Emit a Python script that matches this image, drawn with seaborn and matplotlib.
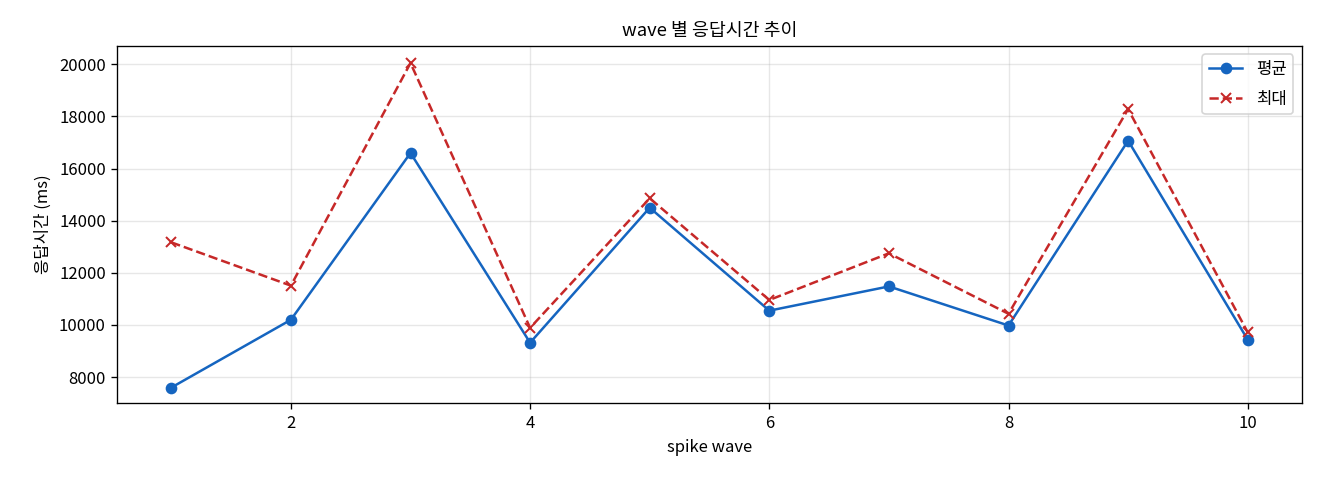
import numpy as np
import pandas as pd
import seaborn as sns
import matplotlib
matplotlib.use("Agg")
import matplotlib.pyplot as plt

# 데이터
waves = [1, 2, 3, 4, 5, 6, 7, 8, 9, 10]
avg_ms = [7600, 10200, 16600, 9320, 14500, 10550, 11480, 9980, 17070, 9440]
max_ms = [13170, 11510, 20050, 9890, 14860, 10960, 12750, 10430, 18280, 9720]

plt.rcParams['font.family'] = ['Noto Sans CJK KR', 'DejaVu Sans']
plt.rcParams['axes.unicode_minus'] = False

df = pd.DataFrame({"wave": waves, "평균": avg_ms, "최대": max_ms})

fig, ax = plt.subplots(figsize=(11, 4), dpi=120)
sns.lineplot(data=df, x="wave", y="평균", ax=ax, color="#1565C0",
             marker="o", markersize=6, markeredgecolor="#1565C0",
             markeredgewidth=1, linewidth=1.5, label="평균")
sns.lineplot(data=df, x="wave", y="최대", ax=ax, color="#C62828",
             marker="x", markersize=6, markeredgecolor="#C62828",
             markeredgewidth=1.2, linewidth=1.5, linestyle="--",
             label="최대")

ax.set_title("wave 별 응답시간 추이", fontsize=11)
ax.set_xlabel("spike wave", fontsize=10)
ax.set_ylabel("응답시간 (ms)", fontsize=10)
ax.set_xticks([2, 4, 6, 8, 10])
ax.set_yticks([8000, 10000, 12000, 14000, 16000, 18000, 20000])
ax.tick_params(labelsize=10)
ax.set_ylim(7000, 20700)
ax.grid(True, alpha=0.3)
ax.legend(loc="upper right", labelspacing=0.75)

fig.subplots_adjust(left=0.089, right=0.986, top=0.904, bottom=0.160)
plt.savefig("out.png")
plt.close()
